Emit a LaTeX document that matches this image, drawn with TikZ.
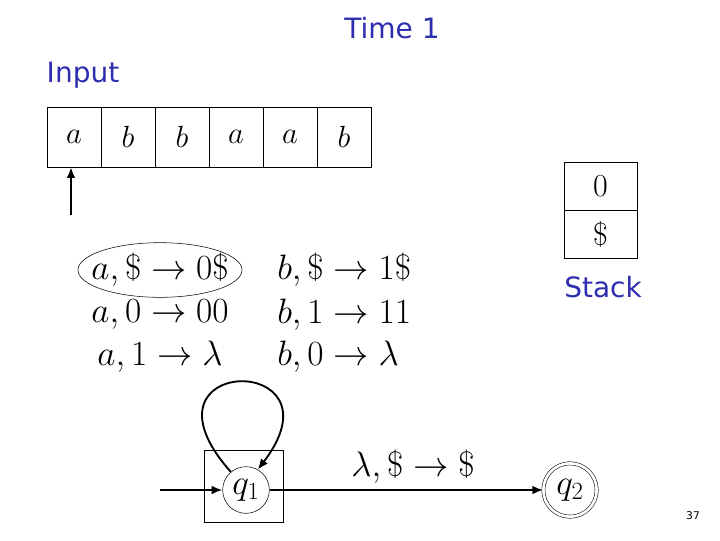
\RequirePackage{fix-cm}
\documentclass[tikz,border=0pt]{standalone}
\usepackage{fontspec}
\newfontfamily\slidefont{DejaVu Sans}
\usetikzlibrary{shapes.geometric,arrows.meta}
\definecolor{slideblue}{RGB}{45,45,175}

\tikzset{
  cell/.style={draw, minimum width=40.5pt, minimum height=45pt, inner sep=0pt, font=\fontsize{23}{25}\selectfont},
  stackcell/.style={draw, minimum width=54.75pt, minimum height=36pt, inner sep=0pt, font=\fontsize{24}{26}\selectfont},
  title/.style={text=slideblue, font=\slidefont\fontsize{21}{24}\selectfont},
  rule/.style={inner sep=0pt, font=\fontsize{26.5}{30}\selectfont},
  state/.style={draw, circle, minimum size=35pt, inner sep=0pt, font=\fontsize{26.5}{30}\selectfont},
  move/.style={-{Latex[length=8pt,width=6.5pt]}, line width=1.4pt}
}

\begin{document}
\begin{tikzpicture}[x=0.75pt, y=-0.75pt]
\useasboundingbox (0,0) rectangle (720,540);

\node[title] (time) at (392,28) {Time 1};
\node[title] (input) at (83,75) {Input};

% tape
\node[cell] (c1) at (74,137) {$a$};
\node[cell] (c2) at (128,137) {$b$};
\node[cell] (c3) at (182,137) {$b$};
\node[cell] (c4) at (236,137) {$a$};
\node[cell] (c5) at (290,137) {$a$};
\node[cell] (c6) at (344,137) {$b$};

\coordinate (head) at (71,215);
\draw[move] (head) -- (head |- c1.south);

% stack
\node[stackcell] (s1) at (600.5,186) {0};
\node[stackcell] (s2) at (600.5,234) {\$};
\node[title] (stack) at (603,287) {Stack};

% transitions
\node[rule] (t1) at (160,270) {$a,\$\rightarrow 0\$$};
\node[rule] (t2) at (160,315) {$a,0\rightarrow 00$};
\node[rule] (t3) at (160,357) {$a,1\rightarrow \lambda$};
\node[rule, anchor=west] (t4) at (277,270) {$b,\$\rightarrow 1\$$};
\node[rule, anchor=west] (t5) at (277,315) {$b,1\rightarrow 11$};
\node[rule, anchor=west] (t6) at (277,357) {$b,0\rightarrow \lambda$};
\draw (t1) ellipse [x radius=61.5pt, y radius=20.5pt];

% states
\node[draw, minimum width=59pt, minimum height=54pt] (mark) at (243.5,486) {};
\node[state] (q1) at (246,490) {$q_1$};
\node[state, double, double distance=2pt, minimum size=40pt] (q2) at (570,490) {$q_2$};

\coordinate (start) at (160,490);
\draw[move] (start) -- (q1);
\draw[move] (q1) -- (q2);
\node[rule] (lab) at (413,467) {$\lambda,\$\rightarrow\$$};
\draw[move] (q1.130) .. controls +(-105,-118) and +(90,-118) .. (q1.60);

\node[font=\slidefont\fontsize{8}{9}\selectfont] (page) at (693,516) {37};
\end{tikzpicture}
\end{document}
